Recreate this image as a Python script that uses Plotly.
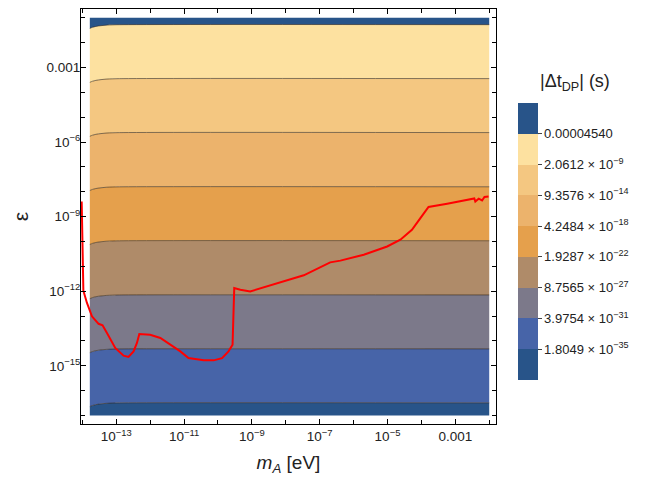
import plotly.graph_objects as go

# ---------------- data ----------------
# contour levels of |Δt_DP| (s), from top boundary to bottom boundary
level_labels = ["0.00004540", "2.0612 × 10<sup>−9</sup>", "9.3576 × 10<sup>−14</sup>",
                "4.2484 × 10<sup>−18</sup>", "1.9287 × 10<sup>−22</sup>", "8.7565 × 10<sup>−27</sup>",
                "3.9754 × 10<sup>−31</sup>", "1.8049 × 10<sup>−35</sup>"]
# log10(epsilon) of each contour boundary (flat part), top to bottom
boundary_log_eps = [-1.28, -3.45, -5.62, -7.80, -9.97, -12.15, -14.32, -16.49]
# small downward bend of the contours at the lowest masses
bend_log_m = [-13.78, -13.7, -13.6, -13.45, -13.3, -13.1, -12.8, -2.0]
bend_dlog_eps = [-0.15, -0.105, -0.07, -0.04, -0.02, -0.008, 0.0, 0.0]
# plotted domain (log10)
m_domain = [-13.78, -2.0]
eps_domain = [-17.0, -1.0]

# red curve (log10 m_A, log10 epsilon)
curve_log_m = [-14.02, -14.00, -13.97, -13.864, -13.717, -13.522, -13.404, -13.274, -13.03,
               -12.785, -12.64, -12.49, -12.39, -12.32, -12.0, -11.70, -11.41, -11.11,
               -10.87, -10.42, -10.13, -9.88, -9.69, -9.57, -9.52, -9.34, -9.05, -8.75,
               -8.16, -7.47, -6.69, -6.39, -5.70, -5.01, -4.62, -4.28, -4.03, -3.79,
               -3.24, -2.56, -2.44, -2.41, -2.31, -2.21, -2.14, -2.02]
curve_log_eps = [-8.39, -10.7, -11.98, -12.47, -13.01, -13.31, -13.37, -13.68, -14.28,
                 -14.59, -14.64, -14.42, -14.08, -13.72, -13.75, -13.88, -14.15, -14.42,
                 -14.69, -14.78, -14.78, -14.69, -14.42, -14.15, -11.87, -11.94, -12.01, -11.89,
                 -11.65, -11.36, -10.84, -10.77, -10.53, -10.20, -9.93, -9.53, -9.06, -8.61,
                 -8.48, -8.32, -8.27, -8.39, -8.28, -8.35, -8.21, -8.19]

# tick labels
x_tickvals = [-13, -11, -9, -7, -5, -3]
x_ticktext = ["10<sup>−13</sup>", "10<sup>−11</sup>", "10<sup>−9</sup>", "10<sup>−7</sup>",
              "10<sup>−5</sup>", "0.001"]
y_tickvals = [-15, -12, -9, -6, -3]
y_ticktext = ["10<sup>−15</sup>", "10<sup>−12</sup>", "10<sup>−9</sup>", "10<sup>−6</sup>", "0.001"]

# band colours from bottom (below lowest level) to top (above highest level)
band_colors = ["#285489", "#4764a8", "#7c798a", "#af8b69", "#e5a04c",
               "#ecb36c", "#f4c781", "#fde1a0", "#285489"]

FONT = "Liberation Sans, Arial, sans-serif"
fig = go.Figure()

# bottom edge of the filled region
fig.add_trace(go.Scatter(x=m_domain, y=[eps_domain[0]] * 2, mode="lines",
                         line=dict(width=0), hoverinfo="skip", showlegend=False))
# boundaries bottom -> top, each filling down to the previous one
bounds_bottom_up = list(reversed(boundary_log_eps))
for i, b in enumerate(bounds_bottom_up):
    ys = [b + d for d in bend_dlog_eps]
    fig.add_trace(go.Scatter(x=bend_log_m, y=ys, mode="lines", line=dict(width=0, shape="spline"),
                             fill="tonexty", fillcolor=band_colors[i], hoverinfo="skip",
                             showlegend=False))
fig.add_trace(go.Scatter(x=m_domain, y=[eps_domain[1]] * 2, mode="lines", line=dict(width=0),
                         fill="tonexty", fillcolor=band_colors[-1], hoverinfo="skip",
                         showlegend=False))
# contour lines
for b in boundary_log_eps:
    ys = [b + d for d in bend_dlog_eps]
    fig.add_trace(go.Scatter(x=bend_log_m, y=ys, mode="lines",
                             line=dict(width=1, color="rgba(50,38,25,0.6)", shape="spline"),
                             hoverinfo="skip", showlegend=False))

# red curve
fig.add_trace(go.Scatter(x=curve_log_m, y=curve_log_eps, mode="lines",
                         line=dict(color="#ff0000", width=2), showlegend=False))

# colour bar via a dummy trace
n = len(band_colors)
cs = []
for i, c in enumerate(band_colors):
    cs.append([i / n, c])
    cs.append([(i + 1) / n, c])
cb_len_px = 277
plot_h = 415
cb_center = 0.4398
cb_x = 1.054
fig.add_trace(go.Scatter(
    x=[None], y=[None], mode="markers", showlegend=False, hoverinfo="skip",
    marker=dict(color=[0], colorscale=cs, cmin=0, cmax=n, showscale=True,
                colorbar=dict(x=cb_x, xanchor="left", y=cb_center, yanchor="middle",
                              lenmode="pixels", len=cb_len_px, thicknessmode="pixels",
                              thickness=20, outlinewidth=0, ypad=0, xpad=0,
                              tickvals=list(range(1, n)), ticktext=list(reversed(level_labels)),
                              ticks="outside", ticklen=4, tickcolor="#444",
                              tickfont=dict(family=FONT, size=13, color="#222")))))

shapes = []
cb_bottom = cb_center - cb_len_px / 2 / plot_h
band_h = cb_len_px / n / plot_h
for k in range(1, n):
    yk = cb_bottom + k * band_h
    shapes.append(dict(type="line", xref="paper", yref="paper", x0=cb_x, x1=cb_x + 20 / 415,
                       y0=yk, y1=yk, line=dict(color="rgba(50,38,25,0.6)", width=1)))

axis_common = dict(showline=True, linecolor="black", linewidth=1, mirror="ticks",
                   ticks="inside", ticklen=5, tickcolor="black", showgrid=False, zeroline=False,
                   automargin=False,
                   tickfont=dict(family=FONT, size=13.5, color="#222"))
fig.update_layout(
    width=648, height=480,
    # the page adds an 8px body margin, so the figure is shifted by (8, 8)
    margin=dict(l=73, r=160, t=1, b=64, autoexpand=False),
    paper_bgcolor="white", plot_bgcolor="white",
    xaxis=dict(range=[-14.04, -1.80], tickvals=x_tickvals, ticktext=x_ticktext,
               minor=dict(tickvals=list(range(-14, -1)), ticks="inside", ticklen=4,
                          tickcolor="black"),
               title=dict(text="<i>m<sub>A</sub></i> [eV]", font=dict(family=FONT, size=19,
                                                                     color="#222"), standoff=12),
               **axis_common),
    yaxis=dict(range=[-17.34, -0.65], tickvals=y_tickvals, ticktext=y_ticktext,
               ticklabelstandoff=-3,
               minor=dict(tickvals=list(range(-17, 0)), ticks="inside", ticklen=4,
                          tickcolor="black"),
               **axis_common),
    shapes=shapes,
    annotations=[
        dict(text="|Δt<sub>DP</sub>| (s)", xref="paper", yref="paper", x=1.19,
             y=0.8217, xanchor="center", yanchor="middle", showarrow=False,
             font=dict(family=FONT, size=18, color="#222")),
        dict(text="ε", xref="paper", yref="paper", x=-0.145, y=0.5, textangle=-90,
             xanchor="center", yanchor="middle", showarrow=False,
             font=dict(family=FONT, size=21, color="#222")),
    ],
)

fig.write_html("out.html")
